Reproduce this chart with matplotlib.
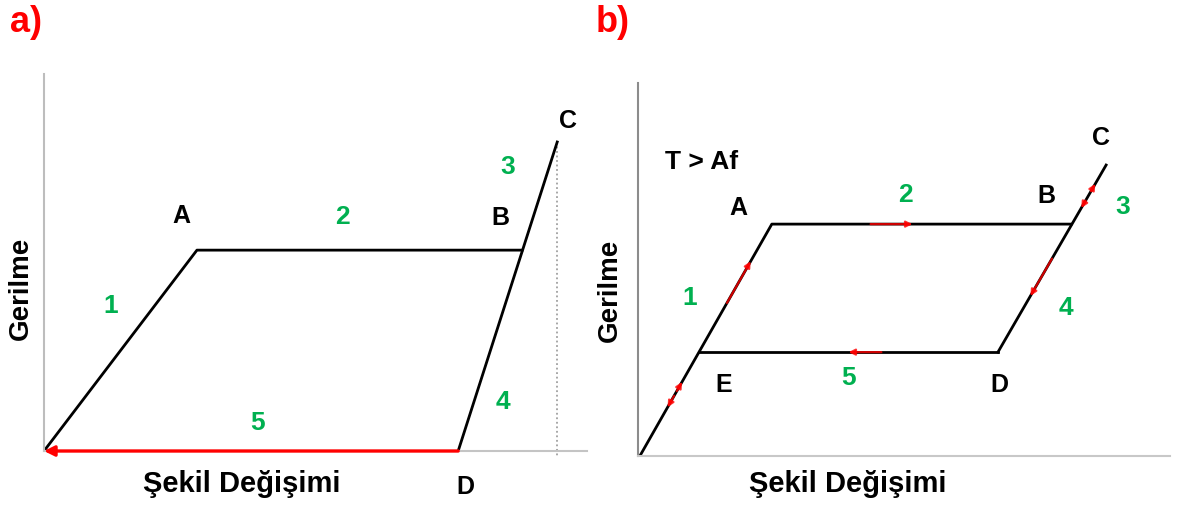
#
# Stress-strain sketches of a shape memory alloy: a) shape memory effect, b) superelastic (T > Af)
#
import matplotlib
matplotlib.use("Agg")
import matplotlib.pyplot as plt

plt.rcParams['font.family'] = ['Liberation Sans', 'DejaVu Sans']
plt.rcParams['font.weight'] = 'bold'

GREEN = '#00b050'
RED = '#ff0000'

# corner points of curve a) (strain, stress), normalised to point C
a_names = ['O', 'A', 'B', 'C', 'D']
a_strain = [0.0, 0.298, 0.934, 1.0, 0.807]
a_stress = [0.0, 0.650, 0.650, 1.0, 0.0]

# corner points of curve b)
b_names = ['O', 'E', 'A', 'B', 'C', 'D']
b_strain = [0.0, 0.127, 0.283, 0.925, 1.0, 0.768]
b_stress = [0.0, 0.357, 0.797, 0.797, 1.0, 0.357]

# step numbers and point letters: (text, strain, stress)
a_steps = [('1', 0.129, 0.472), ('2', 0.581, 0.761), ('3', 0.904, 0.922),
           ('4', 0.895, 0.162), ('5', 0.417, 0.094)]
a_letters = [('A', 0.267, 0.764), ('B', 0.889, 0.757), ('C', 1.021, 1.071),
             ('D', 0.821, -0.113)]
b_steps = [('1', 0.107, 0.546), ('2', 0.569, 0.900), ('3', 1.036, 0.859),
           ('4', 0.914, 0.512), ('5', 0.448, 0.271)]
b_letters = [('A', 0.212, 0.856), ('B', 0.871, 0.897), ('C', 0.989, 1.096),
             ('D', 0.770, 0.247), ('E', 0.180, 0.247)]

xlabel = 'Şekil Değişimi'
ylabel = 'Gerilme'


def pt(names, xs, ys, name):
    i = names.index(name)
    return xs[i], ys[i]


def along(p, q, t):
    return p[0] + (q[0] - p[0]) * t, p[1] + (q[1] - p[1]) * t


def setup_axes(ax, xmax, ymax, xmin=0.0, ycol='#bdbdbd', xcol='#c4c4c4'):
    ax.set_xlim(xmin, xmax)
    ax.set_ylim(0, ymax)
    for s in ['top', 'right']:
        ax.spines[s].set_visible(False)
    ax.spines['left'].set_color(ycol)
    ax.spines['bottom'].set_color(xcol)
    ax.spines['left'].set_linewidth(1.5)
    ax.spines['bottom'].set_linewidth(1.5)
    ax.set_xticks([])
    ax.set_yticks([])
    ax.patch.set_alpha(0)


def put_labels(ax, steps, letters, xy_x, xy_y):
    for t, x, y in steps:
        ax.text(x, y, t, color=GREEN, fontsize=19, ha='center', va='center', clip_on=False)
    for t, x, y in letters:
        ax.text(x, y, t, color='black', fontsize=18, ha='center', va='center', clip_on=False)
    ax.text(xy_x[0], xy_x[1], xlabel, fontsize=21, ha='center', va='center', clip_on=False)
    ax.text(xy_y[0], xy_y[1], ylabel, fontsize=20, ha='center', va='center',
            rotation=90, clip_on=False)


def small_arrow(ax, p, q, t0, t1):
    # short red arrow laid on top of a segment, from fraction t0 to t1
    s = along(p, q, t0)
    e = along(p, q, t1)
    ax.annotate('', xy=e, xytext=s,
                arrowprops=dict(arrowstyle='-|>', color=RED, lw=1.6, alpha=0.8,
                                mutation_scale=9, shrinkA=0, shrinkB=0))


fig = plt.figure(figsize=(11.82, 5.06), dpi=100)

# ---- a) ----
axa = fig.add_axes([44 / 1182, 54 / 506, 543 / 1182, 377 / 506])
setup_axes(axa, 1.058, 1.220)
O = pt(a_names, a_strain, a_stress, 'O')
A = pt(a_names, a_strain, a_stress, 'A')
B = pt(a_names, a_strain, a_stress, 'B')
C = pt(a_names, a_strain, a_stress, 'C')
D = pt(a_names, a_strain, a_stress, 'D')
axa.plot([C[0], C[0]], [C[1], -0.015], color='#a0a0a0', lw=1.3, ls=(0, (1, 1.5)), clip_on=False)
axa.plot([O[0], A[0], B[0]], [O[1], A[1], B[1]], color='black', lw=2, solid_capstyle='butt')
axa.plot([D[0], C[0]], [D[1], C[1]], color='black', lw=2)
axa.annotate('', xy=O, xytext=D,
             arrowprops=dict(arrowstyle='-|>', color=RED, lw=2.4, mutation_scale=15,
                             shrinkA=0, shrinkB=0), annotation_clip=False)
put_labels(axa, a_steps, a_letters, (0.385, -0.103), (-0.045, 0.531))

# ---- b) ----
axb = fig.add_axes([638 / 1182, 49 / 506, 532 / 1182, 373 / 506])
setup_axes(axb, 1.137, 1.282, xmin=-0.004, ycol='#8c8c8c', xcol='#c8c8c8')
O = pt(b_names, b_strain, b_stress, 'O')
E = pt(b_names, b_strain, b_stress, 'E')
A = pt(b_names, b_strain, b_stress, 'A')
B = pt(b_names, b_strain, b_stress, 'B')
C = pt(b_names, b_strain, b_stress, 'C')
D = pt(b_names, b_strain, b_stress, 'D')
axb.plot([O[0], A[0], B[0]], [O[1], A[1], B[1]], color='black', lw=2)
axb.plot([E[0], D[0]], [E[1], D[1]], color='black', lw=2)
axb.plot([D[0], C[0]], [D[1], C[1]], color='black', lw=2)

# loading / unloading directions
small_arrow(axb, O, A, 0.66, 0.84)
small_arrow(axb, O, A, 0.28, 0.32)
small_arrow(axb, O, A, 0.26, 0.21)
small_arrow(axb, A, B, 0.33, 0.47)
small_arrow(axb, D, E, 0.39, 0.50)
small_arrow(axb, D, C, 0.86, 0.90)
small_arrow(axb, D, C, 0.81, 0.77)
small_arrow(axb, D, C, 0.50, 0.30)

put_labels(axb, b_steps, b_letters, (0.446, -0.093), (-0.064, 0.574))
axb.text(0.133, 1.014, 'T > Af', fontsize=19, ha='center', va='center', clip_on=False)

fig.text(26 / 1182, 1 - 23 / 506, 'a)', color=RED, fontsize=26, ha='center', va='center')
fig.text(613 / 1182, 1 - 23 / 506, 'b)', color=RED, fontsize=26, ha='center', va='center')

fig.savefig('out.png', dpi=100, facecolor='white')
